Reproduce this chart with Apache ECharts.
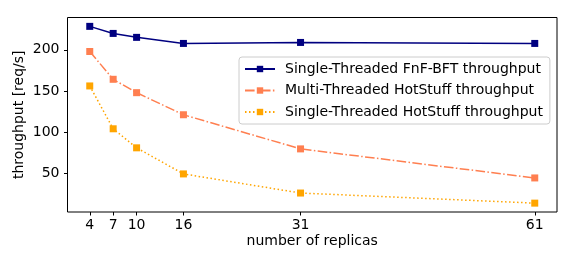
<!DOCTYPE html>
<html><head><meta charset="utf-8">
<script src="https://cdn.jsdelivr.net/npm/echarts@6/dist/echarts.min.js"></script>
<style>html,body{margin:0;padding:0;background:#fff}#c{width:576px;height:266px}</style>
</head><body><div id="c"></div>
<script>
const replicas = [4, 7, 10, 16, 31, 61];
const fnfBft = [228.6, 220, 215.2, 207.8, 209, 207.8];
const multiHotStuff = [198, 164.1, 147.8, 120.9, 79.3, 43.9];
const singleHotStuff = [156, 103.8, 80.6, 48.8, 25.5, 13.2];
const xTicks = [4, 7, 10, 16, 31, 61];
const yTicks = [50, 100, 150, 200];
const seriesNames = ['Single-Threaded FnF-BFT throughput', 'Multi-Threaded HotStuff throughput', 'Single-Threaded HotStuff throughput'];

const font = 'DejaVu Sans';
const fs = 14;
const pair = arr => replicas.map((r, i) => [r, arr[i]]);
function mk(name, data, color, type) {
  return {
    name, type: 'line', data: pair(data), symbol: 'rect', symbolSize: 7,
    itemStyle: { color },
    lineStyle: { color, width: 1.5, type },
    animation: false
  };
}
const chart = echarts.init(document.getElementById('c'), null, { renderer: 'canvas' });
chart.setOption({
  animation: false,
  grid: { left: 67.5, right: 19, top: 17.5, bottom: 54, show: true, borderColor: '#000', borderWidth: 1, backgroundColor: 'transparent' },
  xAxis: {
    type: 'value', min: 1.15, max: 63.85,
    name: 'number of replicas', nameLocation: 'middle', nameGap: 22, nameMoveOverlap: false,
    nameTextStyle: { fontFamily: font, fontSize: fs, color: '#000' },
    axisLine: { show: false },
    axisTick: { show: true, length: 3.5, customValues: xTicks, lineStyle: { color: '#000' } },
    axisLabel: { customValues: xTicks, fontFamily: font, fontSize: fs, color: '#000', margin: 6 },
    splitLine: { show: false }
  },
  yAxis: {
    type: 'value', min: 2.4, max: 239.4,
    name: 'throughput [req/s]', nameLocation: 'middle', nameGap: 41, nameMoveOverlap: false,
    nameTextStyle: { fontFamily: font, fontSize: fs, color: '#000' },
    axisLine: { show: false },
    axisTick: { show: true, length: 3.5, customValues: yTicks, lineStyle: { color: '#000' } },
    axisLabel: { customValues: yTicks, fontFamily: font, fontSize: fs, color: '#000', margin: 8 },
    splitLine: { show: false }
  },
  legend: {
    left: 239, top: 57, orient: 'vertical',
    padding: [4, 7, 4, 5],
    itemWidth: 30, itemHeight: 8, itemGap: 5.5,
    borderColor: '#ccc', borderWidth: 1, borderRadius: 3,
    backgroundColor: 'rgba(255,255,255,0.8)',
    textStyle: { fontFamily: font, fontSize: fs, color: '#000', lineHeight: 16, padding: [0, 0, 0, 5] },
    data: seriesNames
  },
  series: [
    mk(seriesNames[0], fnfBft, '#000080', 'solid'),
    mk(seriesNames[1], multiHotStuff, '#FF7F50', [9.6, 2.4, 1.5, 2.4]),
    mk(seriesNames[2], singleHotStuff, '#FFA500', [1.5, 2.5])
  ]
});
</script></body></html>
